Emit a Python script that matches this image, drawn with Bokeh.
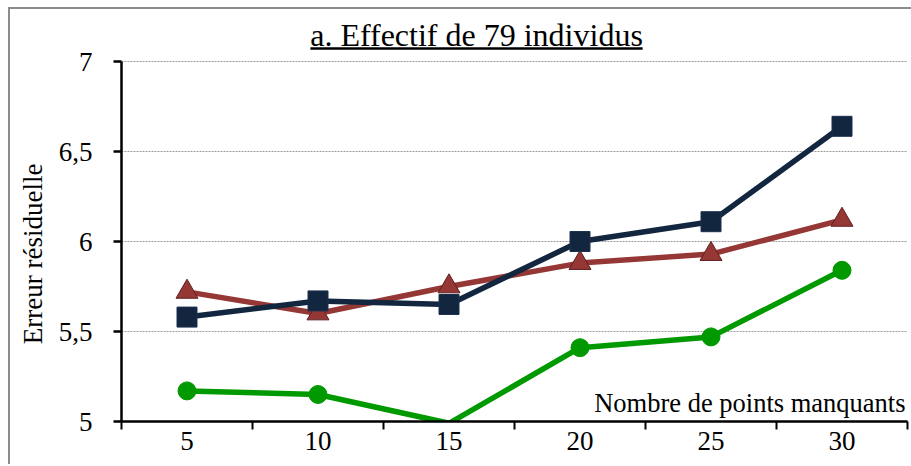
import math
from bokeh.plotting import figure
from bokeh.layouts import row
from bokeh.models import (Range1d, FixedTicker, Label, BoxAnnotation,
                          ColumnDataSource, CDSView, BooleanFilter)
from bokeh.embed import file_html
from bokeh.resources import INLINE

# ---- data ----
x_values = [5, 10, 15, 20, 25, 30]
serie_carres = [5.58, 5.67, 5.65, 6.00, 6.11, 6.64]
serie_triangles = [5.72, 5.60, 5.75, 5.88, 5.93, 6.12]
serie_cercles = [5.17, 5.15, 4.99, 5.41, 5.47, 5.84]
y_ticks = [5, 5.5, 6, 6.5, 7]
y_tick_labels = ["5", "5,5", "6", "6,5", "7"]
x_tick_labels = ["5", "10", "15", "20", "25", "30"]
title_text = "a. Effectif de 79 individus"
x_title = "Nombre de points manquants"
y_title = "Erreur résiduelle"

FONT = "Liberation Serif"
Y_MIN, Y_MAX = 5, 7
BORDER = "2px solid #8c8c8c"
H = 457

# ---- left strip holding the vertical axis title ----
side = figure(width=42, height=H, output_backend="svg", toolbar_location=None,
              x_range=Range1d(0, 42), y_range=Range1d(0, H),
              x_axis_type=None, y_axis_type=None,
              min_border_left=0, min_border_right=0, min_border_top=0,
              min_border_bottom=0)
side.styles = {"margin-left": "8px", "margin-top": "7px",
               "border-top": BORDER, "border-left": BORDER}
side.outline_line_color = None
side.grid.visible = False
side.add_layout(Label(x=22.5, y=186, text=y_title, angle=math.pi / 2,
                      text_align="center", text_baseline="middle", text_font=FONT,
                      text_font_size="27px", text_color="black"))

# ---- main chart ----
p = figure(width=861, height=H, output_backend="svg", toolbar_location=None,
           x_range=Range1d(2.5, 32.5), y_range=Range1d(Y_MIN, 7.2889),
           min_border_left=71, min_border_right=4, min_border_top=0,
           min_border_bottom=45)
p.styles = {"margin-top": "7px", "border-top": BORDER}
p.outline_line_color = None
p.background_fill_color = "white"
p.border_fill_color = "white"

# grid
p.xgrid.visible = False
p.ygrid.ticker = FixedTicker(ticks=y_ticks)
p.ygrid.grid_line_color = "#9a9a9a"
p.ygrid.grid_line_dash = "2 1"
p.ygrid.grid_line_width = 1

# x axis: labels at centres, ticks between categories
xa = p.xaxis[0]
half = (x_values[1] - x_values[0]) / 2
xa.ticker = FixedTicker(ticks=x_values,
                        minor_ticks=[v - half for v in x_values] + [x_values[-1] + half])
xa.major_label_overrides = {v: s for v, s in zip(x_values, x_tick_labels)}
xa.major_tick_out = 0
xa.major_tick_in = 0
xa.minor_tick_out = 8
xa.minor_tick_in = 0
xa.minor_tick_line_color = "black"
xa.minor_tick_line_width = 2
xa.axis_line_width = 2.5
xa.axis_line_color = "black"
xa.major_label_text_font = FONT
xa.major_label_text_font_size = "27px"
xa.major_label_text_color = "black"
xa.major_label_standoff = 2

# y axis
ya = p.yaxis[0]
ya.ticker = FixedTicker(ticks=y_ticks)
ya.bounds = (Y_MIN, Y_MAX)
ya.major_label_overrides = {v: s for v, s in zip(y_ticks, y_tick_labels)}
ya.major_tick_out = 8
ya.major_tick_in = 0
ya.minor_tick_out = 0
ya.minor_tick_in = 0
ya.major_tick_line_width = 2.5
ya.axis_line_width = 2.5
ya.axis_line_color = "black"
ya.major_label_text_font = FONT
ya.major_label_text_font_size = "27px"
ya.major_label_text_color = "black"
ya.major_label_standoff = 21


def add_series(vals, color, marker, size, outline):
    src = ColumnDataSource(dict(x=x_values, y=vals))
    p.line("x", "y", source=src, line_color=color, line_width=5.5)
    view = CDSView(filter=BooleanFilter([v >= Y_MIN for v in vals]))
    p.scatter("x", "y", source=src, view=view, marker=marker, size=size,
              fill_color=color, line_color=outline, line_width=1)


add_series(serie_cercles, "#009900", "circle", 18, "#009900")
add_series(serie_triangles, "#953735", "triangle", 22, "#5e2120")
add_series(serie_carres, "#13263f", "square", 20, "#1c3150")

# title (underlined) and x title
p.add_layout(Label(x=16.05, y=7.147, text=title_text, text_align="center",
                   text_baseline="alphabetic", text_font=FONT,
                   text_font_size="32px", text_color="black"))
p.add_layout(BoxAnnotation(left=9.71, right=22.39, bottom=7.0653, top=7.0792,
                           fill_color="black", fill_alpha=1, line_color=None))
p.add_layout(Label(x=32.5, y=5.103, x_offset=-2, text=x_title, text_align="right",
                   text_baseline="alphabetic", text_font=FONT,
                   text_font_size="26.5px", text_color="black"))

layout = row(side, p, spacing=0)
open("out.html", "w").write(file_html(layout, INLINE))
